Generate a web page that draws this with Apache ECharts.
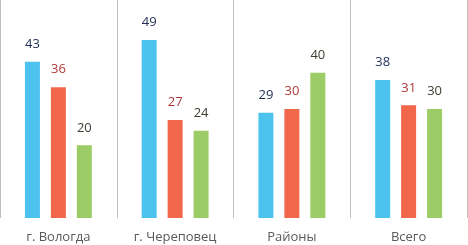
<!DOCTYPE html>
<html>
<head>
<meta charset="utf-8">
<script src="https://cdn.jsdelivr.net/npm/echarts@6/dist/echarts.min.js"></script>
<style>
  html, body { margin: 0; padding: 0; background: #fff; }
  #chart { width: 468px; height: 245px; }
</style>
</head>
<body>
<div id="chart"></div>
<script>
var categories = ['г. Вологда', 'г. Череповец', 'Районы', 'Всего'];
var blueValues = [43, 49, 29, 38];
var redValues = [36, 27, 30, 31];
var greenValues = [20, 24, 40, 30];

function makeSeries(data, color, labelColor) {
    return {
        type: 'bar',
        data: data,
        barWidth: 15,
        barGap: '73%',
        itemStyle: { color: color },
        label: {
            show: true,
            position: 'top',
            distance: 11,
            color: labelColor,
            fontFamily: 'Open Sans',
            fontSize: 13
        }
    };
}

var option = {
    animation: false,
    grid: { left: 0, right: 1, top: 0, bottom: 27 },
    xAxis: {
        type: 'category',
        data: categories,
        axisLine: { show: false },
        axisTick: { show: false },
        splitLine: { show: true, interval: 0, lineStyle: { color: '#BFBFBF', width: 1 } },
        axisLabel: {
            color: '#595959',
            fontFamily: 'Open Sans',
            fontSize: 13,
            margin: 13,
            interval: 0
        }
    },
    yAxis: {
        type: 'value',
        min: 0,
        max: 60,
        show: false
    },
    series: [
        makeSeries(blueValues, '#4BC3EE', '#1F2D55'),
        makeSeries(redValues, '#F0674B', '#B03A3A'),
        makeSeries(greenValues, '#9BCC65', '#3A3F30')
    ]
};

echarts.init(document.getElementById('chart')).setOption(option);
</script>
</body>
</html>
